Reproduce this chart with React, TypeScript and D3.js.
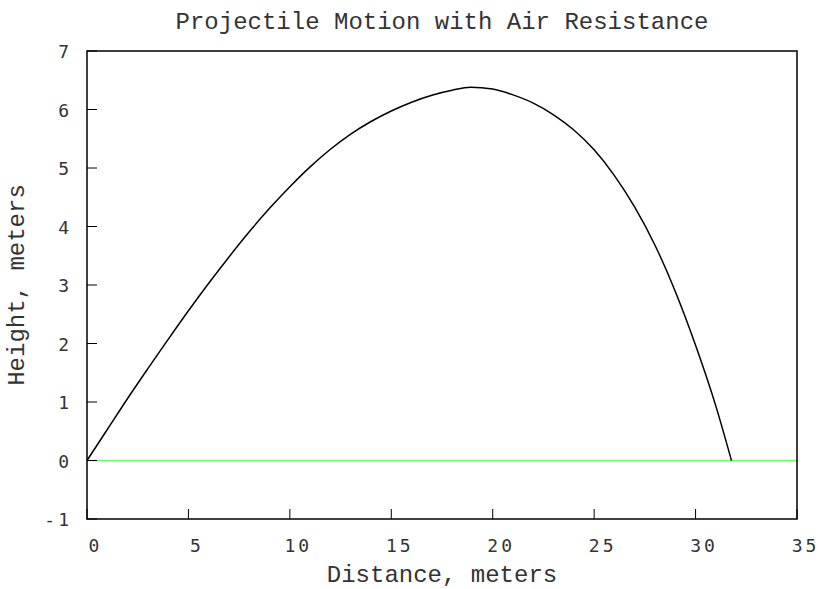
import React from "react";
import * as d3 from "d3";

const distance = [0, 1, 2, 3, 4, 5, 6, 7, 8, 9, 10, 11, 12, 13, 14, 15, 16, 17, 18, 18.9, 20, 21, 22, 23, 24, 25, 26, 27, 28, 29, 30, 31, 31.77];
const height = [0, 0.53, 1.06, 1.57, 2.07, 2.56, 3.03, 3.48, 3.91, 4.31, 4.68, 5.02, 5.32, 5.58, 5.795, 5.975, 6.125, 6.245, 6.33, 6.38, 6.35, 6.25, 6.11, 5.91, 5.65, 5.31, 4.87, 4.33, 3.68, 2.89, 1.97, 0.93, 0];
const xTicks = [0, 5, 10, 15, 20, 25, 30, 35];
const yTicks = [-1, 0, 1, 2, 3, 4, 5, 6, 7];
const groundX = [0, 35];
const groundY = [0, 0];

const W = 819, H = 589;
const L = 87, R = 797, T = 51, B = 519;

export default function App() {
  const x = d3.scaleLinear().domain([0, 35]).range([L, R]);
  const y = d3.scaleLinear().domain([-1, 7]).range([B, T]);
  const pts: [number, number][] = distance.map((d, i) => [d, height[i]]);
  const line = d3.line<[number, number]>().x(d => x(d[0])).y(d => y(d[1])).curve(d3.curveMonotoneX);
  const ground: [number, number][] = groundX.map((d, i) => [d, groundY[i]]);
  const gline = d3.line<[number, number]>().x(d => x(d[0])).y(d => y(d[1]));
  const tickFont = "'DejaVu Sans Mono', monospace";
  const titleFont = "'Courier New', Courier, 'Nimbus Mono PS', FreeMono, 'Liberation Mono', monospace";
  return (
    <svg width={W} height={H} style={{ position: "absolute", left: 0, top: 0, background: "#fff" }}>
      <rect x={0} y={0} width={W} height={H} fill="#fff" />
      <path d={gline(ground) || ""} stroke="#66ff66" strokeWidth={1.5} fill="none" />
      {xTicks.map(t => (
        <g key={"x" + t}>
          <line x1={x(t)} x2={x(t)} y1={B} y2={B - 10} stroke="#000" strokeWidth={1} />
          <text x={x(t) + 8.5} y={552} textAnchor="middle" fontFamily={tickFont} fontSize={18} letterSpacing={3} fill="#333">{t}</text>
        </g>
      ))}
      {yTicks.map(t => (
        <g key={"y" + t}>
          <line x1={L} x2={L + 10} y1={y(t)} y2={y(t)} stroke="#000" strokeWidth={1} />
          <text x={72} y={y(t) + 7} textAnchor="end" fontFamily={tickFont} fontSize={18} letterSpacing={3} fill="#333">{t < 0 ? "-" + Math.abs(t) : t}</text>
        </g>
      ))}
      <path d={line(pts) || ""} stroke="#000" strokeWidth={1.5} fill="none" />
      <rect x={L} y={T} width={R - L} height={B - T} fill="none" stroke="#000" strokeWidth={1.5} />
      <text x={442} y={29} textAnchor="middle" fontFamily={titleFont} fontSize={24} fill="#333">Projectile Motion with Air Resistance</text>
      <text x={442} y={582} textAnchor="middle" fontFamily={titleFont} fontSize={24} fill="#333">Distance, meters</text>
      <text transform={`translate(24, ${(T + B) / 2}) rotate(-90)`} textAnchor="middle" fontFamily={titleFont} fontSize={24} fill="#333">Height, meters</text>
    </svg>
  );
}
